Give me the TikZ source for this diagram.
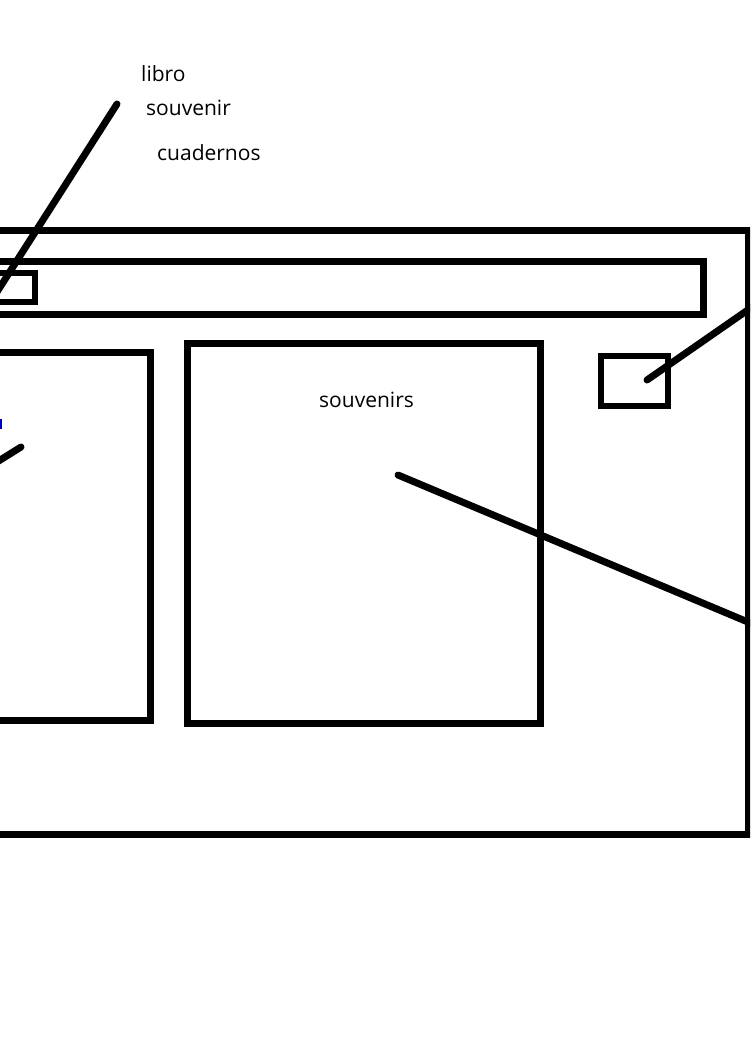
\documentclass[tikz,border=0pt]{standalone}
\usepackage{fontspec}
\setmainfont{Open Sans}
\begin{document}
\begin{tikzpicture}[x=1pt, y=-1pt,
    frame/.style={line width=7pt},
    thin frame/.style={line width=6pt},
    pointer/.style={line width=7pt, line cap=round},
    tag/.style={font=\fontsize{21}{24}\selectfont, anchor=west, inner sep=0pt, text=black}]
    \useasboundingbox (0,0) rectangle (750,1050);
    \clip (0,0) rectangle (750,1050);

    % FINESTRA
    \draw[frame] (-20,230) rectangle (748,834);
    % BARRA SUPERIOR
    \draw[frame] (-20,261) rectangle (703,314);
    \draw[thin frame] (-20,273) rectangle (35,302);
    % PANELLS
    \draw[frame] (-20,352) rectangle (150,720);
    \draw[frame] (187,343) rectangle (540,723);
    \draw[thin frame] (601,356) rectangle (668,406);

    % TEXTOS
    \node[tag] (libro) at (141,74) {libro};
    \node[tag] (souv) at (146,108) {souvenir};
    \node[tag] (cuad) at (157,153) {cuadernos};
    \node[tag] (souvs) at (319,400) {souvenirs};
    \fill[blue!75!black] (0,419) rectangle (2,429);

    % LINIES
    \coordinate (menu top) at (117,104);
    \coordinate (menu end) at (-5,295);
    \coordinate (left start) at (21,447);
    \coordinate (left end) at (-3,462);
    \coordinate (mid start) at (398,475);
    \coordinate (mid end) at (755,625);
    \coordinate (btn start) at (647,380);
    \coordinate (btn end) at (755,305);
    \draw[pointer] (menu top) -- (menu end);
    \draw[pointer] (left start) -- (left end);
    \draw[pointer] (mid start) -- (mid end);
    \draw[pointer] (btn start) -- (btn end);
\end{tikzpicture}
\end{document}
